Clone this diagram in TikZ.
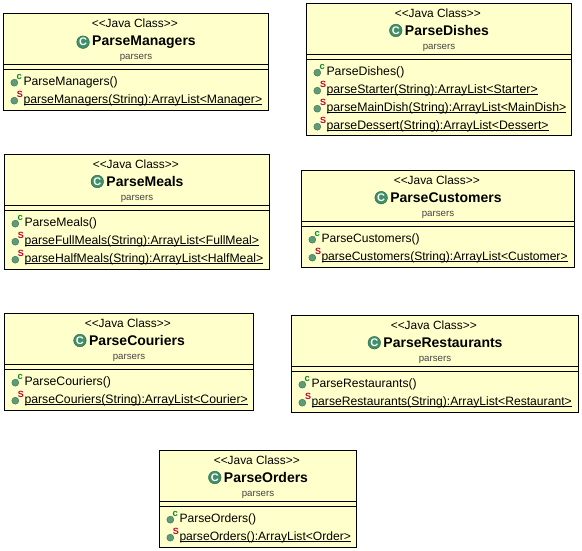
\documentclass[tikz,border=0pt]{standalone}
\usepackage{fontspec}
\setmainfont{Liberation Sans}
\definecolor{classfill}{HTML}{FFFFCB}
\definecolor{iconbig}{HTML}{3F8F68}
\definecolor{iconsmall}{HTML}{5C9C78}
\definecolor{ctorc}{HTML}{0A8A2A}
\definecolor{statics}{HTML}{C00030}
\definecolor{pkggrey}{HTML}{444444}
\newcommand{\mfs}{12.2}
\tikzset{
  classbox/.style={draw=black,fill=classfill,line width=1pt,inner sep=0pt,outer sep=0pt},
  divider/.style={draw=black,line width=1pt},
  stereo/.style={inner sep=0pt,font=\fontsize{11.9}{14}\selectfont,anchor=base},
  cname/.style={inner sep=0pt,font=\fontsize{14}{16}\selectfont\bfseries,anchor=base},
  pkg/.style={inner sep=0pt,font=\fontsize{9.7}{12}\selectfont,text=pkggrey,anchor=base},
  bigicon/.style={circle,fill=iconbig,draw=iconbig!70!black,line width=.4pt,minimum size=12.6pt,inner sep=0pt,text=white,font=\fontsize{11}{11}\selectfont\bfseries},
  methodtext/.style={inner sep=0pt,outer sep=0pt,font=\fontsize{\mfs}{14}\selectfont,anchor=base west},
  smallicon/.style={circle,fill=iconsmall,draw=iconsmall!70!black,line width=.4pt,minimum size=7pt,inner sep=0pt},
  modc/.style={inner sep=0pt,text=ctorc,font=\fontsize{9.5}{9}\selectfont\bfseries},
  mods/.style={inner sep=0pt,text=statics,font=\fontsize{9}{9}\selectfont\bfseries},
  iconstem/.style={draw=iconsmall,line width=.7pt},
  underl/.style={draw=black,line width=.8pt}
}
% id, x1, y1, x2, y2, upper divider y, class name
\newcommand{\umlclass}[7]{%
  \pgfmathsetmacro{\bw}{#4-#2}\pgfmathsetmacro{\bh}{#5-#3}%
  \pgfmathsetmacro{\bx}{(#2+#4)/2}\pgfmathsetmacro{\by}{(#3+#5)/2}%
  \pgfmathsetmacro{\da}{#6}\pgfmathsetmacro{\db}{#6+5}%
  \xdef\curleft{#2}\xdef\curdiv{\db}\xdef\curid{#1}%
  \node[classbox,minimum width=\bw pt,minimum height=\bh pt] (#1) at (\bx,\by) {};
  \draw[divider] (#1.west |- 0,\da) -- (#1.east |- 0,\da);
  \draw[divider] (#1.west |- 0,\db) -- (#1.east |- 0,\db);
  \pgfmathsetmacro{\ya}{#3+14.4}\pgfmathsetmacro{\yb}{#3+32.2}\pgfmathsetmacro{\yc}{#3+45.6}%
  \pgfmathsetmacro{\xn}{\bx+8}\pgfmathsetmacro{\xs}{\bx-1.2}%
  \node[stereo] (#1-st) at (\xs,\ya) {<{}<Java Class>{}>};
  \node[cname] (#1-nm) at (\xn,\yb) {#7};
  \node[bigicon] (#1-ic) at ([xshift=-9pt,yshift=.2pt]#1-nm.west) {C};
  \node[pkg] (#1-pk) at (\bx,\yc) {parsers};
}
% row index (0-based), node suffix, text
\newcommand{\umlctor}[3]{%
  \pgfmathsetmacro{\ry}{\curdiv+11.5+18*#1}\pgfmathsetmacro{\rb}{\ry+4.4}%
  \pgfmathsetmacro{\tx}{\curleft+20}\pgfmathsetmacro{\ix}{\curleft+10.8}\pgfmathsetmacro{\iy}{\ry+1.7}%
  \pgfmathsetmacro{\mx}{\curleft+15.8}\pgfmathsetmacro{\my}{\ry-4.5}%
  \node[smallicon] (\curid-i#2) at (\ix,\iy) {};
  \node[modc] (\curid-m#2) at (\mx,\my) {c};
  \draw[iconstem] (\curid-i#2) -- (\curid-m#2.south west);
  \node[methodtext] (\curid-t#2) at (\tx,\rb) {#3};
}
\newcommand{\umlstatic}[3]{%
  \pgfmathsetmacro{\ry}{\curdiv+11.5+18*#1}\pgfmathsetmacro{\rb}{\ry+4.4}%
  \pgfmathsetmacro{\tx}{\curleft+20}\pgfmathsetmacro{\ix}{\curleft+10.8}\pgfmathsetmacro{\iy}{\ry+1.7}%
  \pgfmathsetmacro{\mx}{\curleft+16.5}\pgfmathsetmacro{\my}{\ry-4.5}%
  \pgfmathsetmacro{\uy}{\ry+5.6}%
  \node[smallicon] (\curid-i#2) at (\ix,\iy) {};
  \node[mods] (\curid-m#2) at (\mx,\my) {S};
  \node[methodtext] (\curid-t#2) at (\tx,\rb) {#3};
  \coordinate (\curid-ua#2) at (\tx,\uy);
  \draw[underl] (\curid-ua#2) -- (\curid-t#2.east |- \curid-ua#2);
}
\begin{document}
\begin{tikzpicture}[x=1pt,y=-1pt]
\useasboundingbox[fill=white] (0,0) rectangle (582,551);
\renewcommand{\mfs}{12.2}
\umlclass{man}{3.5}{13.5}{268.5}{110.5}{64.5}{ParseManagers}
\umlctor{0}{a}{ParseManagers()}
\umlstatic{1}{b}{parseManagers(String):ArrayList<Manager>}

\renewcommand{\mfs}{12.3}
\umlclass{dis}{306.5}{3.5}{571.5}{136}{54.5}{ParseDishes}
\umlctor{0}{a}{ParseDishes()}
\umlstatic{1}{b}{parseStarter(String):ArrayList<Starter>}
\umlstatic{2}{c}{parseMainDish(String):ArrayList<MainDish>}
\umlstatic{3}{d}{parseDessert(String):ArrayList<Dessert>}

\renewcommand{\mfs}{12.2}
\umlclass{mea}{4.5}{154.5}{269.5}{269.5}{205.5}{ParseMeals}
\umlctor{0}{a}{ParseMeals()}
\umlstatic{1}{b}{parseFullMeals(String):ArrayList<FullMeal>}
\umlstatic{2}{c}{parseHalfMeals(String):ArrayList<HalfMeal>}

\renewcommand{\mfs}{12.1}
\umlclass{cus}{301.5}{170.5}{574.5}{267}{221.5}{ParseCustomers}
\umlctor{0}{a}{ParseCustomers()}
\umlstatic{1}{b}{parseCustomers(String):ArrayList<Customer>}

\renewcommand{\mfs}{12.25}
\umlclass{cou}{4.5}{313.5}{253.5}{410.5}{364.5}{ParseCouriers}
\umlctor{0}{a}{ParseCouriers()}
\umlstatic{1}{b}{parseCouriers(String):ArrayList<Courier>}

\renewcommand{\mfs}{12.13}
\umlclass{res}{291.5}{315.5}{578.5}{412}{366.5}{ParseRestaurants}
\umlctor{0}{a}{ParseRestaurants()}
\umlstatic{1}{b}{parseRestaurants(String):ArrayList<Restaurant>}

\renewcommand{\mfs}{12.1}
\umlclass{ord}{159.5}{450.5}{356.5}{547}{501.5}{ParseOrders}
\umlctor{0}{a}{ParseOrders()}
\umlstatic{1}{b}{parseOrders():ArrayList<Order>}
\end{tikzpicture}
\end{document}
